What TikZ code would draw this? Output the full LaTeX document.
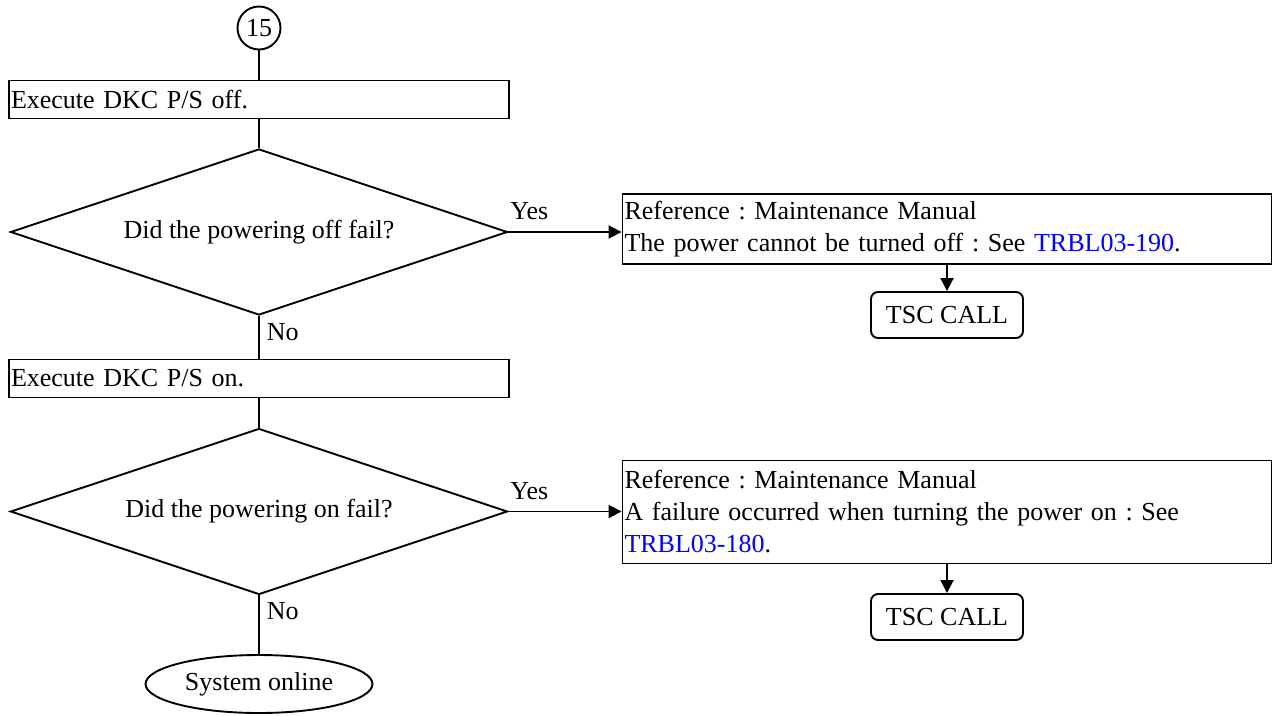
\documentclass[tikz,border=0pt]{standalone}
\usepackage{fontspec}
\setmainfont{Liberation Serif}
\usetikzlibrary{shapes.geometric,arrows.meta}
\definecolor{linkblue}{RGB}{0,0,255}
\newcommand{\flowsize}{\fontsize{26}{32}\selectfont\frenchspacing}
\tikzset{
  flowline/.style={line width=1.9pt},
  flowarrow/.style={line width=1.9pt,-{Triangle[length=13pt,width=13pt]}},
  jumpbox/.style={draw,line width=1.9pt,circle,minimum size=43pt,inner sep=0pt},
  stepbox/.style={draw,line width=1.9pt,rectangle,minimum width=500pt,minimum height=38pt,text width=496pt,align=left,inner xsep=2pt,inner ysep=0pt},
  askbox/.style={draw,line width=1.9pt,diamond,aspect=3,minimum width=497pt,minimum height=166pt,inner sep=0pt},
  refbox/.style={draw,line width=1.9pt,rectangle,text width=645pt,align=left,inner xsep=2pt,inner ysep=7pt,minimum height=69pt},
  callbox/.style={draw,line width=1.9pt,rectangle,rounded corners=7pt,minimum width=152pt,minimum height=46pt},
  endbox/.style={draw,line width=1.9pt,ellipse,minimum width=227pt,minimum height=58pt,inner sep=0pt},
  yeslabel/.style={anchor=south west,inner xsep=1pt,inner ysep=11pt},
  nolabel/.style={anchor=west,inner xsep=7pt}
}
\begin{document}
\begin{tikzpicture}[x=1pt,y=-1pt,font=\flowsize]
    \useasboundingbox (0,0) rectangle (1274,715);

    \node[jumpbox] (start) at (259,28) {15};
    \node[stepbox] (pwroff) at (259,99.5) {Execute DKC P/S off.};
    \node[askbox] (askoff) at (259,232) {Did the powering off fail?};
        \node[refbox] (refoff) at (947,229) {Reference : Maintenance Manual\\The power cannot be turned off : See \textcolor{linkblue}{TRBL03-190}.};
        \node[callbox] (calloff) at (947,315) {TSC CALL};
    \node[stepbox] (pwron) at (259,378.5) {Execute DKC P/S on.};
    \node[askbox] (askon) at (259,511.5) {Did the powering on fail?};
        \node[refbox,minimum height=103pt] (refon) at (947,512) {Reference : Maintenance Manual\\A failure occurred when turning the power on : See \textcolor{linkblue}{TRBL03-180}.};
        \node[callbox] (callon) at (947,617) {TSC CALL};
    \node[endbox] (online) at (259,684) {System online};

    \draw[flowline] (start) -- (pwroff);
    \draw[flowline] (pwroff) -- (askoff);
    \draw[flowarrow] (askoff.east) -- (askoff.east -| refoff.west)
        node[yeslabel,pos=0] (yesoff) {Yes};
    \draw[flowarrow] (refoff) -- (calloff);
    \draw[flowline] (askoff) -- (pwron)
        node[nolabel,pos=0.37] (nooff) {No};
    \draw[flowline] (pwron) -- (askon);
    \draw[flowarrow] (askon.east) -- (askon.east -| refon.west)
        node[yeslabel,pos=0] (yeson) {Yes};
    \draw[flowarrow] (refon) -- (callon);
    \draw[flowline] (askon) -- (online)
        node[nolabel,pos=0.27] (noon) {No};

\end{tikzpicture}
\end{document}
